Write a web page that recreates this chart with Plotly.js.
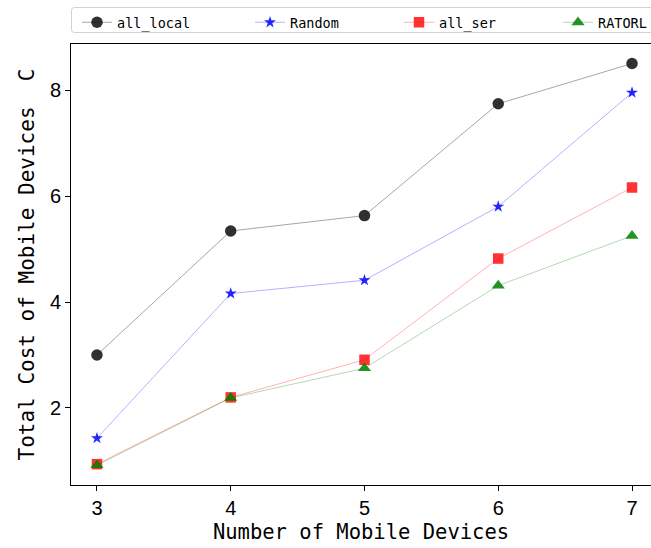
<!DOCTYPE html>
<html>
<head>
<meta charset="utf-8">
<script src="https://cdn.plot.ly/plotly-3.0.1.min.js"></script>
<style>html,body{margin:0;padding:0;background:#fff;}#chart{width:651px;height:548px;}</style>
</head>
<body>
<div id="chart"></div>
<script>
const devices = [3, 4, 5, 6, 7];
const allLocal = [3.00, 5.34, 5.63, 7.74, 8.50];
const randomCost = [1.43, 4.16, 4.41, 5.80, 7.95];
const allSer = [0.94, 2.20, 2.91, 4.82, 6.16];
const ratorl = [0.92, 2.19, 2.75, 4.31, 5.25];
const seriesNames = ['all_local', 'Random', 'all_ser', 'RATORL'];
const xTickVals = [3, 4, 5, 6, 7];
const yTickVals = [2, 4, 6, 8];

const mono = 'DejaVu Sans Mono, Liberation Mono, monospace';
const sans = 'Liberation Sans, Arial, sans-serif';

function trace(name, y, lineColor, markerColor, symbol, size, legendId) {
  return {
    x: devices, y: y, name: name, type: 'scatter', mode: 'lines+markers',
    legend: legendId,
    line: {color: lineColor, width: 1},
    marker: {color: markerColor, symbol: symbol, size: size, line: {width: 0}}
  };
}

const data = [
  trace(seriesNames[0], allLocal, 'rgba(0,0,0,0.35)', 'rgba(20,20,20,0.88)', 'circle', 11.5, 'legend'),
  trace(seriesNames[1], randomCost, 'rgba(0,0,255,0.3)', 'rgba(0,0,255,0.85)', 'star', 9, 'legend2'),
  trace(seriesNames[2], allSer, 'rgba(255,0,0,0.3)', 'rgba(255,0,0,0.8)', 'square', 10.5, 'legend3'),
  trace(seriesNames[3], ratorl, 'rgba(0,128,0,0.3)', 'rgba(0,128,0,0.85)', 'triangle-up', 11.5, 'legend4')
];

function legendAt(px) {
  return {
    orientation: 'h', xref: 'container', yref: 'container',
    x: px / 651, xanchor: 'left', y: 1 - 7/548, yanchor: 'top',
    bgcolor: 'rgba(0,0,0,0)', borderwidth: 0,
    font: {family: mono, size: 13.5, color: '#000'}
  };
}

const layout = {
  width: 651, height: 548,
  margin: {l: 71, r: 0, t: 44, b: 63, pad: 0},
  paper_bgcolor: '#fff', plot_bgcolor: '#fff',
  showlegend: true,
  legend: legendAt(77),
  legend2: legendAt(250),
  legend3: legendAt(399),
  legend4: legendAt(558),
  xaxis: {
    range: [2.806, 7.142], tickvals: xTickVals, ticktext: xTickVals.map(String),
    showgrid: false, zeroline: false,
    showline: true, mirror: true, linecolor: '#000', linewidth: 1,
    ticks: 'outside', ticklen: 5, tickcolor: '#000',
    tickfont: {family: sans, size: 20, color: '#000'},
    title: {text: 'Number of Mobile Devices', font: {family: mono, size: 20.5, color: '#000'}, standoff: 6}
  },
  yaxis: {
    range: [0.547, 8.868], tickvals: yTickVals, ticktext: yTickVals.map(String),
    showgrid: false, zeroline: false,
    showline: true, mirror: false, linecolor: '#000', linewidth: 1,
    ticks: 'outside', ticklen: 5, tickcolor: '#000',
    tickfont: {family: sans, size: 20, color: '#000'},
    title: {text: 'Total Cost of Mobile Devices  C', font: {family: mono, size: 21, color: '#000'}, standoff: 9}
  }
};

Plotly.newPlot('chart', data, layout, {displayModeBar: false, staticPlot: true}).then(function (gd) {
  // light grey rounded frame around the legend row
  const svg = gd.querySelector('.main-svg');
  const ns = 'http://www.w3.org/2000/svg';
  const r = document.createElementNS(ns, 'rect');
  r.setAttribute('x', 71.5); r.setAttribute('y', 7.5);
  r.setAttribute('width', 600); r.setAttribute('height', 25);
  r.setAttribute('rx', 3); r.setAttribute('ry', 3);
  r.setAttribute('fill', 'none'); r.setAttribute('stroke', '#d2d2d2'); r.setAttribute('stroke-width', 1);
  svg.appendChild(r);
});
</script>
</body>
</html>
